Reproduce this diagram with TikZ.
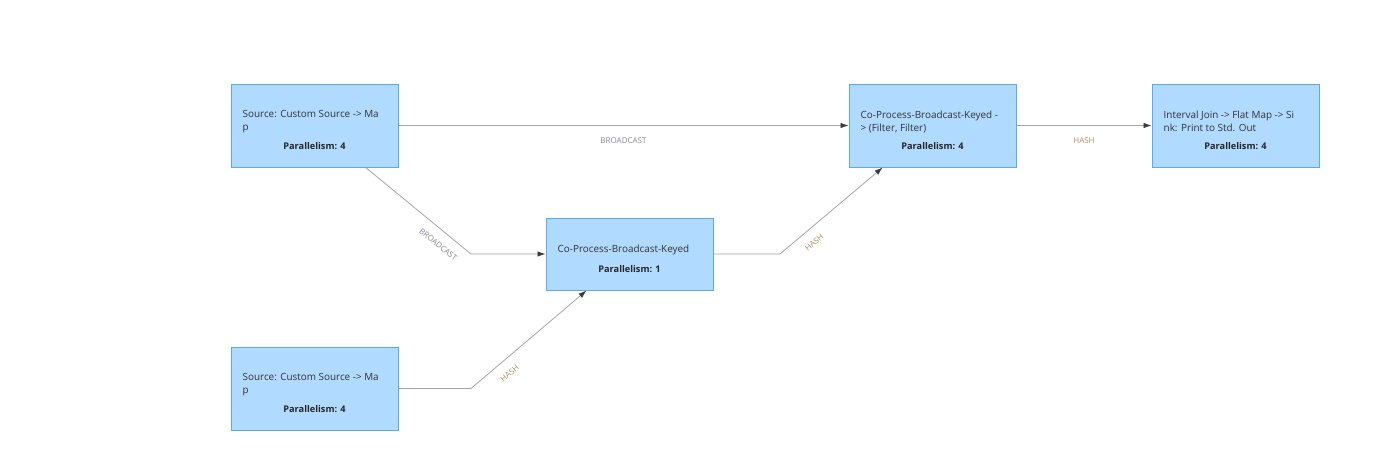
\documentclass[tikz,border=0pt]{standalone}
\usepackage{fontspec}
\setmainfont{Open Sans}
\usetikzlibrary{arrows.meta,positioning}
\definecolor{opfill}{RGB}{176,218,255}
\definecolor{opline}{RGB}{90,170,240}
\definecolor{flowgray}{RGB}{165,165,165}
\definecolor{tipgray}{RGB}{60,60,60}
\definecolor{bcastcol}{RGB}{135,135,155}
\definecolor{hashcol}{RGB}{180,140,100}
\begin{document}
\begin{tikzpicture}[x=1pt,y=-1pt]
\tikzset{
  op/.style={draw=opline, fill=opfill, line width=1pt, minimum width=167pt, inner sep=0pt},
  optxt/.style={anchor=north west, align=left, inner sep=0pt, text=black!80, font=\fontsize{9.9}{13}\selectfont},
  oppar/.style={inner sep=0pt, text=black!85, font=\fontsize{9.2}{10}\selectfont\bfseries},
  flow/.style={draw=flowgray, line width=0.8pt, -{Latex[length=8pt,width=5.5pt,fill=tipgray,color=tipgray]}},
  lbl/.style={inner sep=0pt, font=\fontsize{8}{9}\selectfont},
  bcast/.style={lbl, text=bcastcol},
  hash/.style={lbl, text=hashcol}
}
\useasboundingbox (0,0) rectangle (1392,450);
\node [op, minimum height=83pt] (srcA) at (314.5,125.5) {};
\node [op, minimum height=83pt] (srcB) at (314.5,388.5) {};
\node [op, minimum height=72pt] (cpk) at (629.5,254) {};
\node [op, minimum height=83pt] (cpkf) at (932.5,125.5) {};
\node [op, minimum height=83pt] (join) at (1235.5,125.5) {};
\node [optxt] (srcA-t) at ([xshift=12pt, yshift=-27pt]srcA.north west) {Source: Custom Source -> Ma\\p};
\node [oppar] (srcA-p) at ([yshift=-63pt]srcA.north) {Parallelism: 4};
\node [optxt] (srcB-t) at ([xshift=12pt, yshift=-27pt]srcB.north west) {Source: Custom Source -> Ma\\p};
\node [oppar] (srcB-p) at ([yshift=-63pt]srcB.north) {Parallelism: 4};
\node [optxt] (cpk-t) at ([xshift=12pt, yshift=-27pt]cpk.north west) {Co-Process-Broadcast-Keyed};
\node [oppar] (cpk-p) at ([yshift=-52pt]cpk.north) {Parallelism: 1};
\node [optxt] (cpkf-t) at ([xshift=12pt, yshift=-27pt]cpkf.north west) {Co-Process-Broadcast-Keyed -\\> (Filter, Filter)};
\node [oppar] (cpkf-p) at ([yshift=-63pt]cpkf.north) {Parallelism: 4};
\node [optxt] (join-t) at ([xshift=12pt, yshift=-27pt]join.north west) {Interval Join -> Flat Map -> Si\\nk: Print to Std. Out};
\node [oppar] (join-p) at ([yshift=-63pt]join.north) {Parallelism: 4};
\coordinate (bendAC) at (471,254);
\coordinate (bendBC) at (471,388.5);
\coordinate (bendCD) at (780,254);
\draw [flow] (srcA) -- node [bcast, below=12pt] {BROADCAST} (cpkf);
\draw [flow] (srcA) -- node [bcast, sloped, below=10pt, pos=0.77] {BROADCAST} (bendAC) -- (cpk);
\draw [flow] (srcB) -- (bendBC) -- node [hash, sloped, below=10pt, pos=0.26] {HASH} (cpk);
\draw [flow] (cpk) -- (bendCD) -- node [hash, sloped, below=10pt, pos=0.25] {HASH} (cpkf);
\draw [flow] (cpkf) -- node [hash, below=12pt] {HASH} (join);
\end{tikzpicture}
\end{document}
